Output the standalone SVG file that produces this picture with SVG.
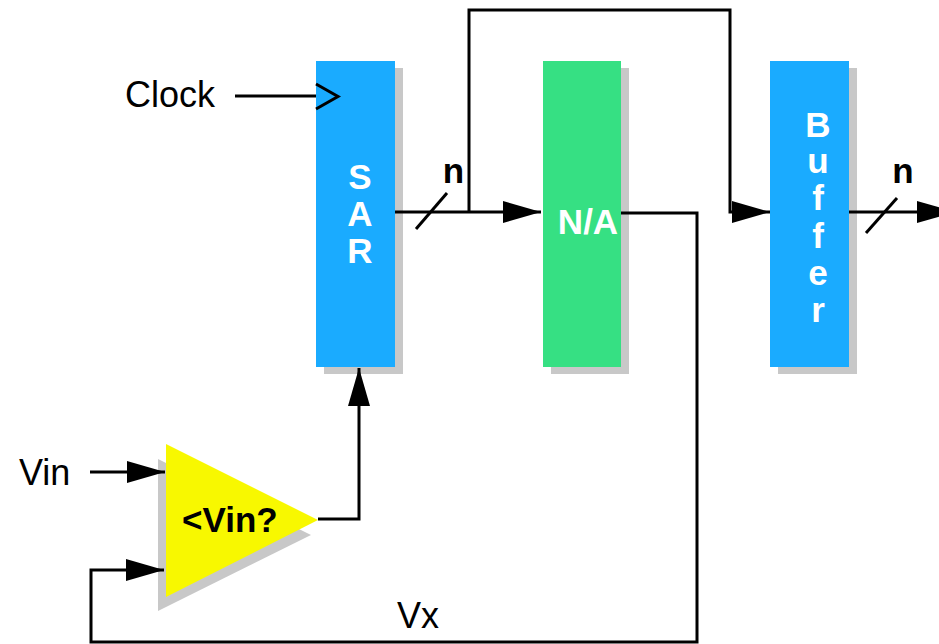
<svg xmlns="http://www.w3.org/2000/svg" width="939" height="644" viewBox="0 0 939 644">
<style>
.shadow{fill:#C8C8C8}
.blue{fill:#1AABFF}
.green{fill:#36E083}
.yellow{fill:#F8F800}
.wire{fill:none;stroke:#000;stroke-width:3}
.lbl{font-family:"Liberation Sans",Arial,sans-serif;font-size:36px;fill:#000}
.wl{font-family:"Liberation Sans",Arial,sans-serif;font-size:35px;font-weight:bold;fill:#fff;text-anchor:middle}
.bl{font-family:"Liberation Sans",Arial,sans-serif;font-size:35px;font-weight:bold;fill:#000}
</style>
<defs>
<marker id="arr" markerUnits="userSpaceOnUse" markerWidth="38" markerHeight="22" refX="38" refY="11" orient="auto" viewBox="0 0 38 22">
<path d="M0,0 L38,11 L0,22 z" fill="#000"/>
</marker>
</defs>
<rect width="939" height="644" fill="#fff"/>
<g id="SAR">
<rect class="shadow" x="324" y="68" width="79" height="306"/>
<rect class="blue" x="316" y="61" width="79" height="306"/>
<polyline class="wire" points="316,84 338,96.5 316,109"/>
<text class="wl" x="360" y="189">S</text>
<text class="wl" x="360" y="226">A</text>
<text class="wl" x="360" y="263">R</text>
</g>
<g id="NA">
<rect class="shadow" x="551" y="68" width="78" height="306"/>
<rect class="green" x="543" y="61" width="78" height="306"/>
<text class="wl" x="588" y="234">N/A</text>
</g>
<g id="Buffer">
<rect class="shadow" x="778" y="68" width="79" height="306"/>
<rect class="blue" x="770" y="61" width="79" height="306"/>
<text class="wl" x="818" y="137">B</text>
<text class="wl" x="818" y="173">u</text>
<text class="wl" x="818" y="210">f</text>
<text class="wl" x="818" y="248">f</text>
<text class="wl" x="818" y="285">e</text>
<text class="wl" x="818" y="322">r</text>
</g>
<g id="Comparator">
<polygon class="shadow" points="158,459 311,535 158,611"/>
<polygon class="yellow" points="166,444 318,520 166,597"/>
<text class="bl" x="182" y="532" font-size="33">&lt;Vin?</text>
</g>
<g id="labels">
<text class="lbl" x="125" y="107">Clock</text>
<text class="lbl" x="19" y="485">Vin</text>
<text class="lbl" x="397" y="628">Vx</text>
<text class="bl" x="453.5" y="183" text-anchor="middle">n</text>
<text class="bl" x="903" y="183" text-anchor="middle">n</text>
</g>
<g id="connectors">
<path class="wire" d="M235,96 H316"/>
<path class="wire" d="M395,212 H541" marker-end="url(#arr)"/>
<path class="wire" d="M416,229 L447,193"/>
<path class="wire" d="M469,212 V10 H730 V212 H770" marker-end="url(#arr)"/>
<path class="wire" d="M621,213 H697 V642 H91 V570 H164" marker-end="url(#arr)"/>
<path class="wire" d="M90,472 H165" marker-end="url(#arr)"/>
<path class="wire" d="M318,519 H359 V368" marker-end="url(#arr)"/>
<path class="wire" d="M849,212 H955" marker-end="url(#arr)"/>
<path class="wire" d="M866,233 L897,198"/>
</g>
</svg>
